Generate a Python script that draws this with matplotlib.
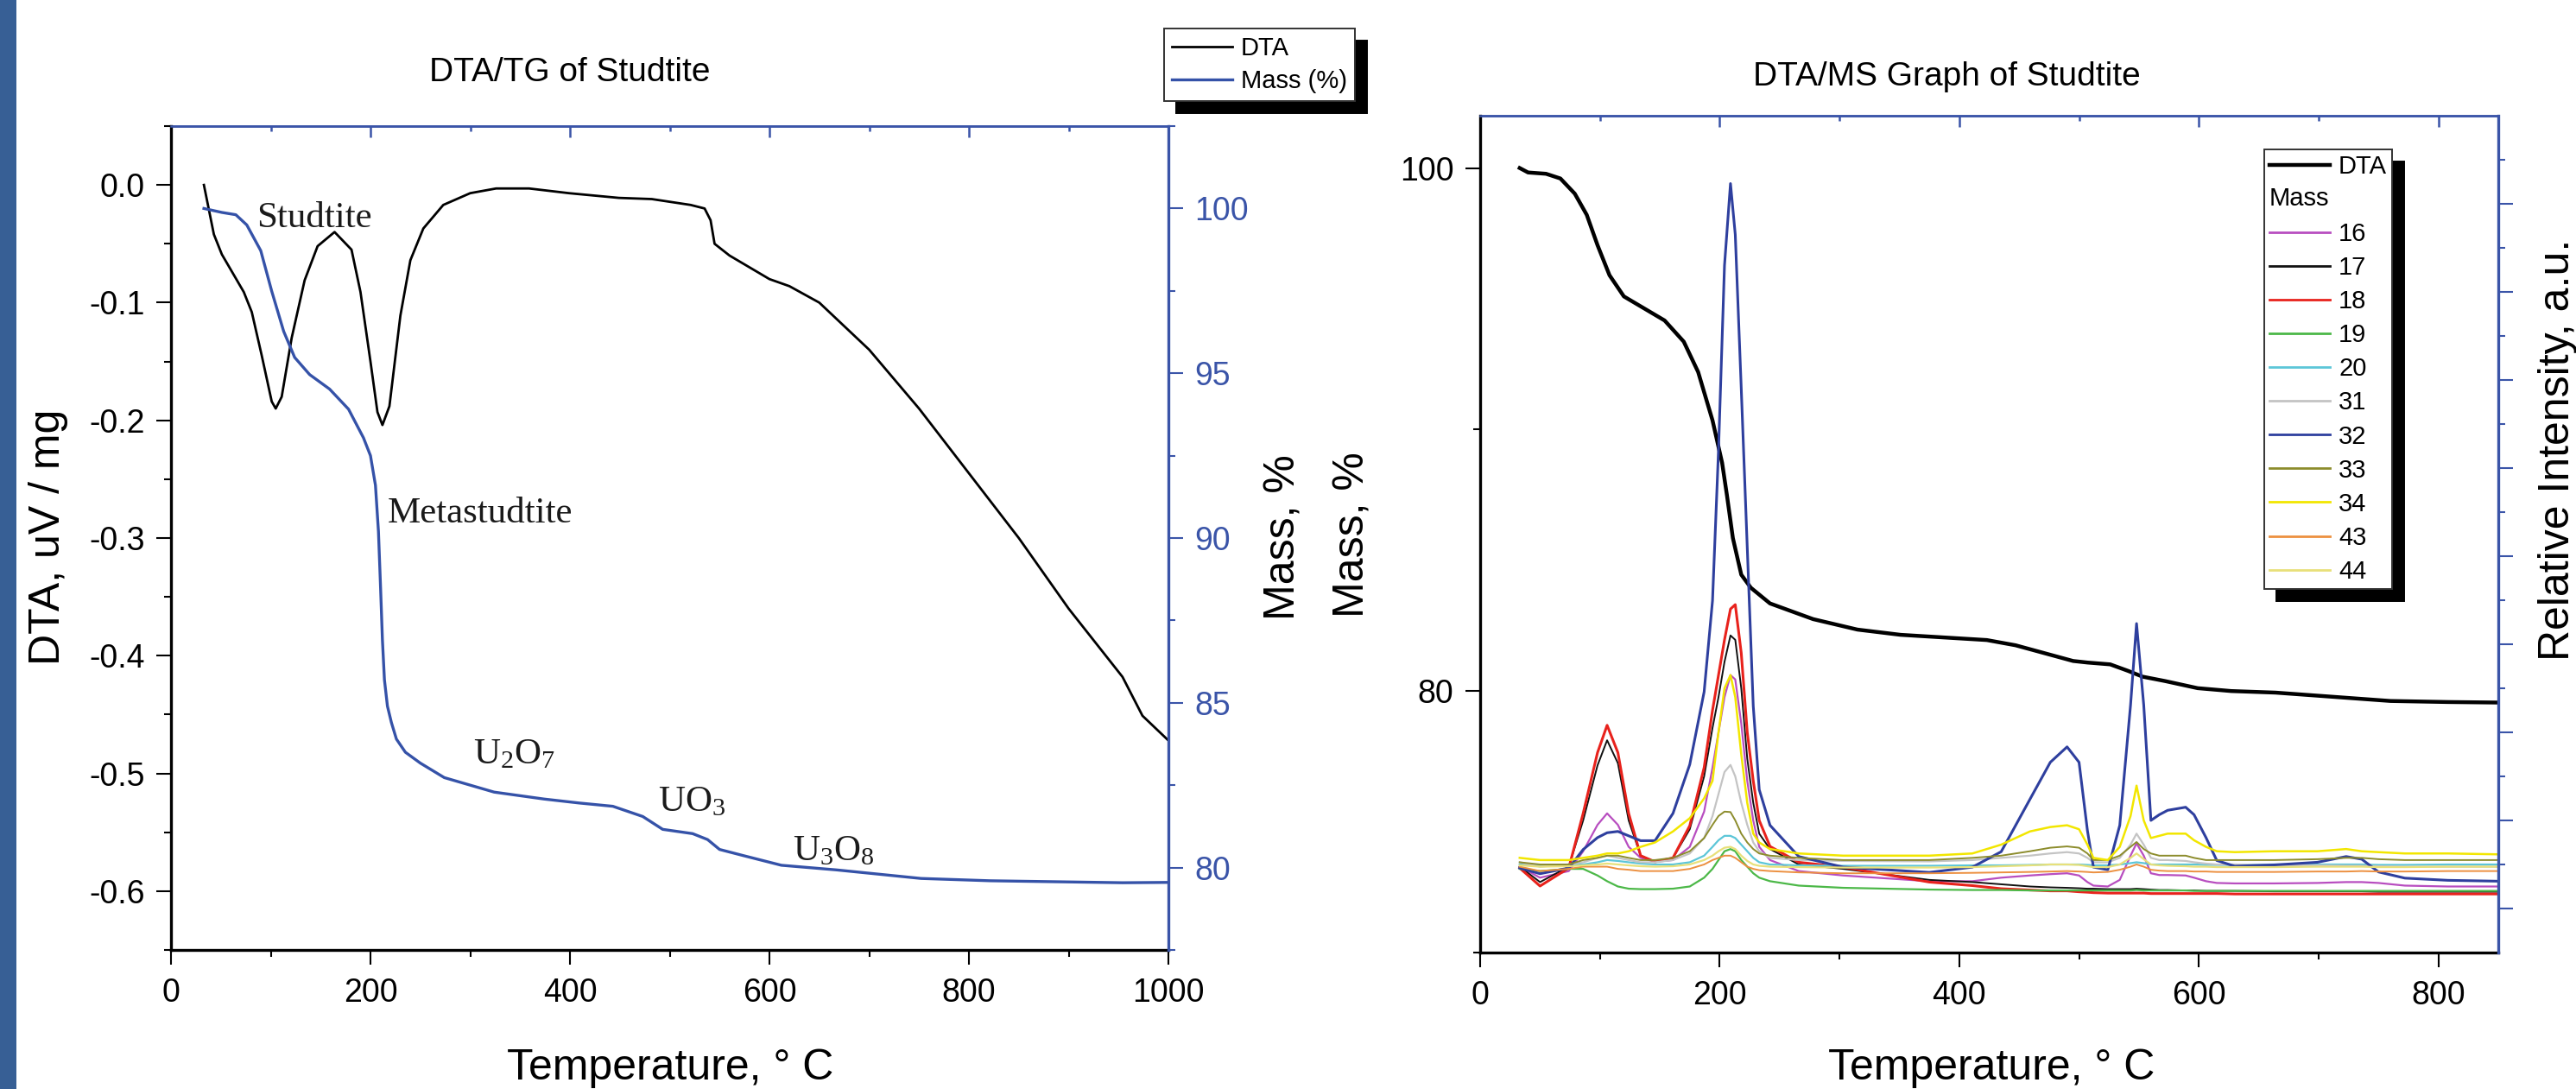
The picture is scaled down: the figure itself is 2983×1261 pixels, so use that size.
import numpy as np
import matplotlib
matplotlib.use('Agg')
import matplotlib.pyplot as plt
from matplotlib.ticker import MultipleLocator, FixedLocator, NullFormatter
from matplotlib.legend_handler import HandlerBase
from matplotlib.lines import Line2D
from matplotlib.patches import Rectangle
from matplotlib.text import Text

plt.rcParams['font.family'] = ['Liberation Sans', 'DejaVu Sans']
plt.rcParams['mathtext.fontset'] = 'custom'
plt.rcParams['mathtext.rm'] = 'Liberation Serif'
plt.rcParams['mathtext.it'] = 'Liberation Serif:italic'
plt.rcParams['axes.unicode_minus'] = False

# ---------------- left panel: DTA/TG ----------------
dta_temp = [33, 43, 51, 62, 73, 81, 91, 101, 105, 111, 121, 134, 147, 164, 181, 190,
            200, 207, 212, 219, 230, 240, 253, 273, 300, 326, 359, 399, 449, 482, 521,
            535, 541, 545, 560, 600, 620, 650, 700, 750, 800, 850, 900, 954, 974, 1000]
dta_vals = [0.0, -0.042, -0.059, -0.075, -0.091, -0.108, -0.145, -0.184, -0.190, -0.180,
            -0.130, -0.081, -0.052, -0.040, -0.055, -0.091, -0.150, -0.193, -0.204, -0.188,
            -0.111, -0.064, -0.037, -0.017, -0.007, -0.003, -0.003, -0.007, -0.011, -0.012,
            -0.017, -0.020, -0.030, -0.050, -0.060, -0.080, -0.086, -0.100, -0.140, -0.190,
            -0.245, -0.300, -0.360, -0.418, -0.451, -0.472]

mass_temp = [33, 51, 65, 76, 90, 101, 113, 124, 139, 159, 178, 193, 200, 205, 208, 210,
             212, 214, 217, 221, 226, 235, 250, 274, 324, 374, 409, 443, 473, 493, 523,
             538, 550, 573, 612, 667, 752, 821, 954, 1000]
mass_vals = [100.0, 99.88, 99.81, 99.5, 98.72, 97.49, 96.27, 95.48, 94.96, 94.52, 93.91,
             93.04, 92.5, 91.6, 90.2, 88.6, 86.9, 85.7, 84.9, 84.4, 83.9, 83.5, 83.17,
             82.73, 82.29, 82.08, 81.96, 81.86, 81.55, 81.16, 81.03, 80.85, 80.55, 80.37,
             80.07, 79.93, 79.67, 79.60, 79.54, 79.55]

# ---------------- right panel: DTA/MS ----------------
tg_temp = [33, 40, 55, 67, 79, 89, 98, 108, 120, 137, 154, 170, 182, 194, 202, 206, 211,
           218, 226, 242, 278, 315, 351, 387, 423, 447, 471, 495, 507, 526, 541, 553, 572,
           599, 627, 664, 712, 760, 808, 850]
tg_vals = [100.0, 99.83, 99.78, 99.6, 99.02, 98.21, 97.05, 95.9, 95.09, 94.63, 94.17,
           93.36, 92.2, 90.35, 88.73, 87.5, 85.85, 84.45, 83.95, 83.35, 82.75, 82.35, 82.15,
           82.05, 81.95, 81.75, 81.45, 81.15, 81.09, 81.02, 80.77, 80.55, 80.38, 80.11,
           80.0, 79.94, 79.78, 79.62, 79.58, 79.56]

ms_temp = [33, 50, 74, 86, 98, 106, 115, 124, 134, 146, 161, 175, 187, 194, 199, 204, 209,
           213, 218, 223, 228, 233, 242, 266, 303, 375, 411, 435, 459, 476, 490, 500, 507,
           512, 524, 534, 543, 548, 554, 560, 567, 574, 589, 596, 606, 615, 630, 663, 699,
           723, 736, 750, 772, 808, 850]

ms_labels = ['16', '17', '18', '19', '20', '31', '32', '33', '34', '43', '44']
ms_colors = ['#b84ec0', '#111111', '#e8221c', '#4cb848', '#5cc6d8', '#c4c4c4',
             '#2e3f9e', '#8c8c2c', '#f2e600', '#ec9040', '#e8e07a']

m16 = [1.95, 1.7, 1.85, 2.3, 2.9, 3.16, 2.9, 2.4, 2.15, 2.06, 2.1, 2.4, 3.2, 4.2, 5.0, 5.8,
       6.3, 6.2, 5.2, 3.9, 3.0, 2.4, 2.1, 1.85, 1.75, 1.62, 1.62, 1.7, 1.75, 1.78, 1.8, 1.75,
       1.6, 1.52, 1.5, 1.65, 2.2, 2.48, 2.2, 1.8, 1.76, 1.76, 1.75, 1.7, 1.62, 1.58, 1.57,
       1.57, 1.58, 1.6, 1.6, 1.58, 1.52, 1.5, 1.5]
m17 = [1.95, 1.6, 1.95, 3.0, 4.25, 4.82, 4.3, 3.0, 2.2, 2.06, 2.15, 2.8, 4.0, 5.1, 5.8, 6.6,
       7.2, 7.1, 6.0, 4.4, 3.4, 2.7, 2.35, 2.0, 1.9, 1.65, 1.6, 1.55, 1.5, 1.48, 1.47, 1.46,
       1.45, 1.45, 1.44, 1.44, 1.44, 1.45, 1.44, 1.43, 1.42, 1.42, 1.41, 1.41, 1.4, 1.4,
       1.4, 1.39, 1.39, 1.39, 1.39, 1.38, 1.38, 1.38, 1.38]
m18 = [1.92, 1.51, 1.92, 3.16, 4.54, 5.16, 4.54, 3.16, 2.2, 2.06, 2.15, 2.88, 4.2, 5.5, 6.3,
       7.1, 7.8, 7.9, 6.8, 5.0, 3.9, 3.0, 2.41, 2.05, 1.94, 1.6, 1.52, 1.45, 1.42, 1.4, 1.4,
       1.38, 1.37, 1.36, 1.35, 1.35, 1.35, 1.35, 1.35, 1.34, 1.34, 1.34, 1.34, 1.34, 1.34,
       1.34, 1.33, 1.33, 1.33, 1.33, 1.33, 1.33, 1.33, 1.33, 1.33]
m19 = [1.9, 1.85, 1.9, 1.9, 1.75, 1.62, 1.5, 1.45, 1.44, 1.44, 1.45, 1.5, 1.7, 1.9, 2.1, 2.3,
       2.35, 2.3, 2.1, 1.95, 1.8, 1.7, 1.62, 1.52, 1.47, 1.43, 1.42, 1.42, 1.41, 1.41, 1.41,
       1.41, 1.41, 1.41, 1.41, 1.41, 1.41, 1.42, 1.41, 1.41, 1.41, 1.41, 1.41, 1.4, 1.4,
       1.4, 1.4, 1.4, 1.4, 1.4, 1.4, 1.4, 1.4, 1.4, 1.4]
m20 = [2.0, 1.98, 2.0, 2.0, 2.05, 2.1, 2.08, 2.05, 2.02, 2.0, 2.0, 2.05, 2.2, 2.4, 2.55,
       2.65, 2.65, 2.6, 2.45, 2.3, 2.15, 2.05, 2.0, 1.98, 1.97, 1.97, 1.98, 1.98, 1.99, 2.0,
       2.0, 2.0, 1.99, 1.98, 1.98, 2.0, 2.03, 2.05, 2.03, 2.0, 2.0, 2.0, 2.0, 2.0, 1.99,
       1.99, 1.99, 2.0, 2.0, 2.0, 2.0, 1.99, 1.99, 2.0, 2.0]
m31 = [2.05, 1.95, 2.0, 2.05, 2.15, 2.2, 2.15, 2.1, 2.05, 2.05, 2.1, 2.25, 2.6, 3.1, 3.6,
       4.1, 4.26, 4.0, 3.4, 2.9, 2.5, 2.3, 2.15, 2.1, 2.08, 2.07, 2.1, 2.15, 2.2, 2.25, 2.28,
       2.25, 2.15, 2.05, 2.05, 2.15, 2.45, 2.7, 2.45, 2.15, 2.1, 2.1, 2.08, 2.05, 2.02, 2.0,
       2.0, 1.98, 1.98, 1.97, 1.97, 1.96, 1.95, 1.95, 1.95]
m32 = [1.92, 1.79, 1.92, 2.34, 2.61, 2.72, 2.75, 2.65, 2.54, 2.54, 3.16, 4.27, 5.92, 7.99,
       11.4, 15.6, 17.46, 16.3, 12.8, 9.2, 5.6, 3.7, 2.89, 2.18, 1.94, 1.82, 1.94, 2.29,
       3.48, 4.32, 4.67, 4.32, 2.77, 1.94, 1.88, 2.89, 5.62, 7.47, 5.62, 3.0, 3.13, 3.23,
       3.3, 3.13, 2.61, 2.09, 1.96, 1.99, 2.05, 2.18, 2.12, 1.83, 1.69, 1.64, 1.62]
m33 = [2.05, 2.0, 2.0, 2.1, 2.15, 2.2, 2.2, 2.15, 2.1, 2.1, 2.15, 2.3, 2.6, 2.9, 3.1, 3.2,
       3.19, 3.0, 2.7, 2.5, 2.35, 2.25, 2.2, 2.15, 2.1, 2.1, 2.15, 2.2, 2.3, 2.38, 2.41,
       2.38, 2.25, 2.1, 2.1, 2.2, 2.4, 2.51, 2.35, 2.25, 2.2, 2.2, 2.2, 2.15, 2.1, 2.1, 2.1,
       2.1, 2.12, 2.15, 2.15, 2.12, 2.1, 2.1, 2.1]
m34 = [2.15, 2.1, 2.1, 2.15, 2.2, 2.25, 2.25, 2.3, 2.4, 2.5, 2.75, 3.05, 3.5, 3.9, 5.0, 6.0,
       6.3, 5.8, 4.5, 3.4, 2.7, 2.5, 2.35, 2.25, 2.2, 2.2, 2.25, 2.45, 2.75, 2.85, 2.89,
       2.8, 2.45, 2.15, 2.1, 2.4, 3.1, 3.79, 3.0, 2.6, 2.65, 2.7, 2.7, 2.55, 2.4, 2.3, 2.28,
       2.3, 2.3, 2.35, 2.3, 2.28, 2.25, 2.25, 2.23]
m43 = [1.95, 1.85, 1.9, 1.95, 1.95, 1.95, 1.9, 1.88, 1.85, 1.85, 1.85, 1.9, 2.0, 2.1, 2.15,
       2.2, 2.2, 2.15, 2.05, 1.95, 1.9, 1.87, 1.85, 1.82, 1.8, 1.8, 1.81, 1.82, 1.83, 1.84,
       1.85, 1.84, 1.83, 1.82, 1.83, 1.88, 1.95, 2.0, 1.95, 1.88, 1.86, 1.85, 1.85, 1.84,
       1.84, 1.83, 1.83, 1.83, 1.84, 1.84, 1.85, 1.84, 1.84, 1.85, 1.85]
m44 = [1.98, 1.95, 1.96, 1.98, 2.0, 2.02, 2.0, 1.98, 1.96, 1.95, 1.96, 2.0, 2.1, 2.2, 2.3,
       2.38, 2.4, 2.35, 2.2, 2.08, 2.0, 1.97, 1.95, 1.94, 1.93, 1.93, 1.94, 1.96, 1.98,
       2.0, 2.0, 1.99, 1.96, 1.94, 1.94, 2.0, 2.15, 2.25, 2.12, 2.0, 1.98, 1.97, 1.96, 1.95,
       1.95, 1.94, 1.94, 1.94, 1.95, 1.95, 1.95, 1.94, 1.94, 1.95, 1.95]
ms_series = [m16, m17, m18, m19, m20, m31, m32, m33, m34, m43, m44]
ms_widths = [1.6, 1.4, 2.2, 1.6, 1.6, 1.6, 2.2, 1.4, 1.8, 1.4, 1.6]

W, H = 2983, 1261
BLUE = '#3a54a8'
TICK = dict(which='major', length=12, width=1.5)
TICKM = dict(which='minor', length=5.5, width=1.5)


class TagText:
    pass


class TagHandler(HandlerBase):
    # puts the word "Mass" where the line sample would go
    def create_artists(self, legend, orig_handle, xdescent, ydescent, width, height,
                       fontsize, trans):
        t = Text(-xdescent, (height - ydescent) / 2, 'Mass', ha='left', va='center',
                 fontsize=fontsize, family='Liberation Sans', transform=trans)
        return [t]


def style_frame(ax, ax2):
    for s in ['left', 'bottom']:
        ax.spines[s].set_linewidth(2.4)
        ax.spines[s].set_color('black')
    ax.spines['top'].set_color(BLUE)
    ax.spines['top'].set_linewidth(1.8)
    ax.spines['right'].set_visible(False)
    for s in ['left', 'bottom', 'top']:
        ax2.spines[s].set_visible(False)
    ax2.spines['right'].set_color(BLUE)
    ax2.spines['right'].set_linewidth(2.4)
    ax.tick_params(axis='both', direction='out', labelsize=27, **TICK)
    ax.tick_params(axis='both', direction='out', **TICKM)
    ax.tick_params(axis='x', pad=11)
    ax.tick_params(axis='y', pad=10)
    ax2.tick_params(axis='y', direction='out', colors=BLUE, labelsize=27, pad=10, **TICK)
    ax2.tick_params(axis='y', direction='out', colors=BLUE, **TICKM)
    sec = ax.secondary_xaxis('top')
    sec.spines['top'].set_color(BLUE)
    sec.spines['top'].set_linewidth(1.8)
    sec.xaxis.set_major_locator(MultipleLocator(200))
    sec.xaxis.set_minor_locator(MultipleLocator(100))
    sec.xaxis.set_major_formatter(NullFormatter())
    sec.tick_params(axis='x', which='major', direction='in', length=9, width=1.8,
                    colors=BLUE)
    sec.tick_params(axis='x', which='minor', direction='in', length=4, width=1.8,
                    colors=BLUE)
    return sec


fig = plt.figure(figsize=(W / 100, H / 100), dpi=100)
fig.patches.append(Rectangle((0, 0), 19 / W, 1, transform=fig.transFigure,
                             facecolor='#375f95', edgecolor='none'))

# ---- left panel ----
ax1 = fig.add_axes([198 / W, 1 - 1100 / H, (1353 - 198) / W, (1100 - 146) / H])
ax1b = ax1.twinx()
l_dta, = ax1.plot(dta_temp, dta_vals, color='black', lw=2.0, label='DTA')
l_mass, = ax1b.plot(mass_temp, mass_vals, color='#3552a8', lw=2.4, label='Mass (%)')
ax1.set_xlim(0, 1000)
ax1.set_ylim(-0.65, 0.05)
ax1b.set_ylim(77.5, 102.5)
ax1.xaxis.set_major_locator(MultipleLocator(200))
ax1.xaxis.set_minor_locator(MultipleLocator(100))
ax1.yaxis.set_major_locator(MultipleLocator(0.1))
ax1.yaxis.set_minor_locator(MultipleLocator(0.05))
ax1.yaxis.set_major_formatter(matplotlib.ticker.FormatStrFormatter('%.1f'))
ax1b.yaxis.set_major_locator(MultipleLocator(5))
ax1b.yaxis.set_minor_locator(MultipleLocator(2.5))
style_frame(ax1, ax1b)

serif = dict(family='Liberation Serif', fontsize=31, color='#1a1a1a')
ax1.text(86, -0.036, 'Studtite', ha='left', va='baseline', **serif)
ax1.text(217, -0.287, 'Metastudtite', ha='left', va='baseline', **serif)
ax1.text(303, -0.492, 'U$_2$O$_7$', ha='left', va='baseline', **serif)
ax1.text(488, -0.532, 'UO$_3$', ha='left', va='baseline', **serif)
ax1.text(623, -0.574, 'U$_3$O$_8$', ha='left', va='baseline', **serif)

leg1 = fig.legend([l_dta, l_mass], ['DTA', 'Mass (%)'], loc='upper left',
                  bbox_to_anchor=(1348 / W, 1 - 33 / H), bbox_transform=fig.transFigure,
                  fontsize=21, fancybox=False, framealpha=1, edgecolor='#333333',
                  borderaxespad=0, borderpad=0.3, handlelength=2.4, handletextpad=0.35,
                  labelspacing=0.35, shadow={'ox': 10, 'oy': -10, 'color': 'black',
                                             'alpha': 1})
leg1.get_frame().set_linewidth(1.4)

fig.text(660 / W, 1 - 84 / H, 'DTA/TG of Studtite', ha='center', va='center', fontsize=28)
fig.text(56 / W, 1 - 622 / H, 'DTA, uV / mg', ha='center', va='center', rotation=90,
         fontsize=36)
fig.text(1487 / W, 1 - 622 / H, 'Mass, %', ha='center', va='center', rotation=90,
         fontsize=36)
fig.text(776 / W, 1 - 1250 / H, 'Temperature, \u00b0 C', ha='center', va='baseline',
         fontsize=36)

# ---- right panel ----
ax2 = fig.add_axes([1714 / W, 1 - 1103 / H, (2893 - 1714) / W, (1103 - 134) / H])
ax2b = ax2.twinx()
h_tg, = ax2.plot(tg_temp, tg_vals, color='black', lw=3.2, label='DTA')
ms_handles = []
for lab, col, vals, lw in zip(ms_labels, ms_colors, ms_series, ms_widths):
    h, = ax2b.plot(ms_temp, vals, color=col, lw=lw, label=lab)
    ms_handles.append(h)
ax2.set_xlim(0, 850)
ax2.set_ylim(70, 102)
ax2b.set_ylim(0, 19)
ax2.xaxis.set_major_locator(MultipleLocator(200))
ax2.xaxis.set_minor_locator(MultipleLocator(100))
ax2.yaxis.set_major_locator(MultipleLocator(20))
ax2.yaxis.set_minor_locator(MultipleLocator(10))
ax2b.yaxis.set_major_locator(FixedLocator(np.arange(1, 19, 2)))
ax2b.yaxis.set_minor_locator(FixedLocator(np.arange(2, 19, 2)))
ax2b.yaxis.set_major_formatter(NullFormatter())
style_frame(ax2, ax2b)

handles = [Line2D([], [], color='black', lw=3.2), TagText()] + \
          [Line2D([], [], color=c, lw=2.0) for c in ms_colors]
labels = ['DTA', ' '] + ms_labels
leg2 = fig.legend(handles, labels, handler_map={TagText: TagHandler()}, loc='upper left',
                  bbox_to_anchor=(2622 / W, 1 - 173 / H), bbox_transform=fig.transFigure,
                  fontsize=21, fancybox=False, framealpha=1, edgecolor='#333333',
                  borderaxespad=0, borderpad=0.2, handlelength=2.4, handletextpad=0.35,
                  labelspacing=0.38, shadow={'ox': 10, 'oy': -10, 'color': 'black',
                                             'alpha': 1})
leg2.get_frame().set_linewidth(1.4)

fig.text(2254 / W, 1 - 89 / H, 'DTA/MS Graph of Studtite', ha='center', va='center',
         fontsize=28)
fig.text(1567 / W, 1 - 619 / H, 'Mass, %', ha='center', va='center', rotation=90,
         fontsize=36)
fig.text(2962 / W, 1 - 521 / H, 'Relative Intensity, a.u.', ha='center', va='center',
         rotation=90, fontsize=36)
fig.text(2306 / W, 1 - 1250 / H, 'Temperature, \u00b0 C', ha='center', va='baseline',
         fontsize=36)

fig.savefig('out.png', dpi=100)
